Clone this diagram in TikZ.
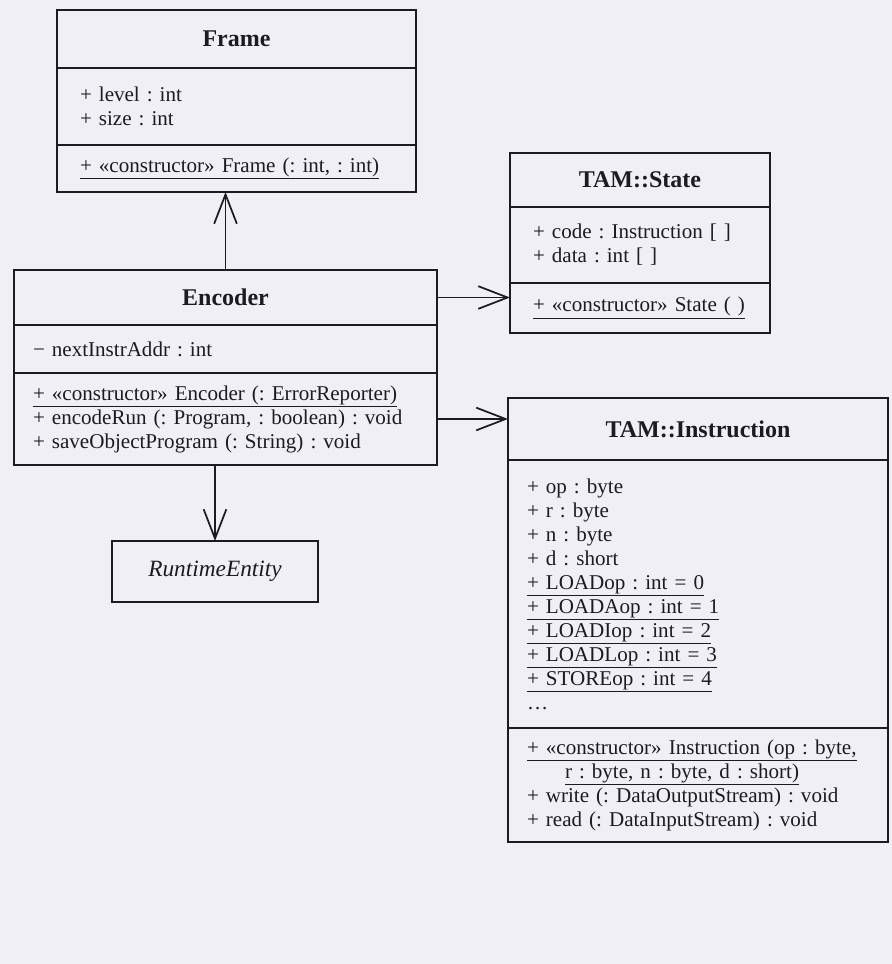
\documentclass[tikz,border=0pt]{standalone}
\usepackage{fontspec}
\setmainfont{Liberation Serif}
\usetikzlibrary{positioning,arrows.meta}
\definecolor{paper}{RGB}{240,239,246}
\definecolor{ink}{RGB}{28,28,32}
\frenchspacing

\begin{document}
\begin{tikzpicture}[x=0.75pt,y=-0.75pt,
    part/.style={draw=ink,line width=1.3pt,outer sep=0pt,anchor=north west,inner ysep=0pt,
      text=ink,align=left,font=\fontsize{15.8}{18}\selectfont},
    head/.style={part,align=center,font=\fontsize{18}{20}\selectfont\bfseries},
    assoc/.style={draw=ink,line width=1.3pt,-{Straight Barb[length=22pt,width=17pt,line width=1.3pt]}}]
    \fill[paper] (0,0) rectangle (892,964);

    % Frame
    \node[head,text width=234.75pt,inner xsep=17.25pt,minimum height=43.5pt] (frame-head) at (57,10) {Frame};
    \node[part,text width=234.75pt,inner xsep=17.25pt,minimum height=57.75pt,below=0pt of frame-head] (frame-attr)
      {+ level : int\\+ size : int};
    \node[part,text width=234.75pt,inner xsep=17.25pt,minimum height=35.25pt,below=0pt of frame-attr] (frame-ops)
      {\underline{+ «constructor» Frame (: int, : int)}};

    % Encoder
    \node[head,text width=288.75pt,inner xsep=14.25pt,minimum height=41.25pt] (enc-head) at (14,270) {Encoder};
    \node[part,text width=288.75pt,inner xsep=14.25pt,minimum height=36pt,below=0pt of enc-head] (enc-attr)
      {− nextInstrAddr : int};
    \node[part,text width=288.75pt,inner xsep=14.25pt,minimum height=69pt,below=0pt of enc-attr] (enc-ops)
      {\underline{+ «constructor» Encoder (: ErrorReporter)}\\
       + encodeRun (: Program, : boolean) : void\\
       + saveObjectProgram (: String) : void};

    % TAM::State
    \node[head,text width=160.5pt,inner xsep=17.25pt,minimum height=40.5pt] (state-head) at (510,153) {TAM::State};
    \node[part,text width=160.5pt,inner xsep=17.25pt,minimum height=57pt,below=0pt of state-head] (state-attr)
      {+ code : Instruction [ ]\\+ data : int [ ]};
    \node[part,text width=160.5pt,inner xsep=17.25pt,minimum height=37.5pt,below=0pt of state-attr] (state-ops)
      {\underline{+ «constructor» State ( )}};

    % TAM::Instruction
    \node[head,text width=256.5pt,inner xsep=14.25pt,minimum height=46.5pt] (instr-head) at (508,398) {TAM::Instruction};
    \node[part,text width=256.5pt,inner xsep=14.25pt,minimum height=201pt,below=0pt of instr-head] (instr-attr)
      {+ op : byte\\+ r : byte\\+ n : byte\\+ d : short\\
       \underline{+ LOADop : int = 0}\\
       \underline{+ LOADAop : int = 1}\\
       \underline{+ LOADIop : int = 2}\\
       \underline{+ LOADLop : int = 3}\\
       \underline{+ STOREop : int = 4}\\
       \dots};
    \node[part,text width=256.5pt,inner xsep=14.25pt,minimum height=85.5pt,below=0pt of instr-attr] (instr-ops)
      {\mbox{\underline{+ «constructor» Instruction (op : byte,}}\\
       \hspace*{28.5pt}\underline{r : byte, n : byte, d : short)}\\
       + write (: DataOutputStream) : void\\
       + read (: DataInputStream) : void};

    % RuntimeEntity
    \node[part,align=center,text width=126pt,inner xsep=14.25pt,minimum height=45.75pt,
      font=\fontsize{17.5}{20}\selectfont\itshape] (rt) at (112,541) {RuntimeEntity};

    % associations
    \draw[assoc] (enc-head.north) -- (enc-head.north |- frame-ops.south);
    \draw[assoc] (enc-head.east) -- (enc-head.east -| state-head.west);
    \draw[assoc] (enc-ops.east) -- (enc-ops.east -| instr-head.west);
    \draw[assoc] (rt.north |- enc-ops.south) -- (rt.north);
\end{tikzpicture}
\end{document}
